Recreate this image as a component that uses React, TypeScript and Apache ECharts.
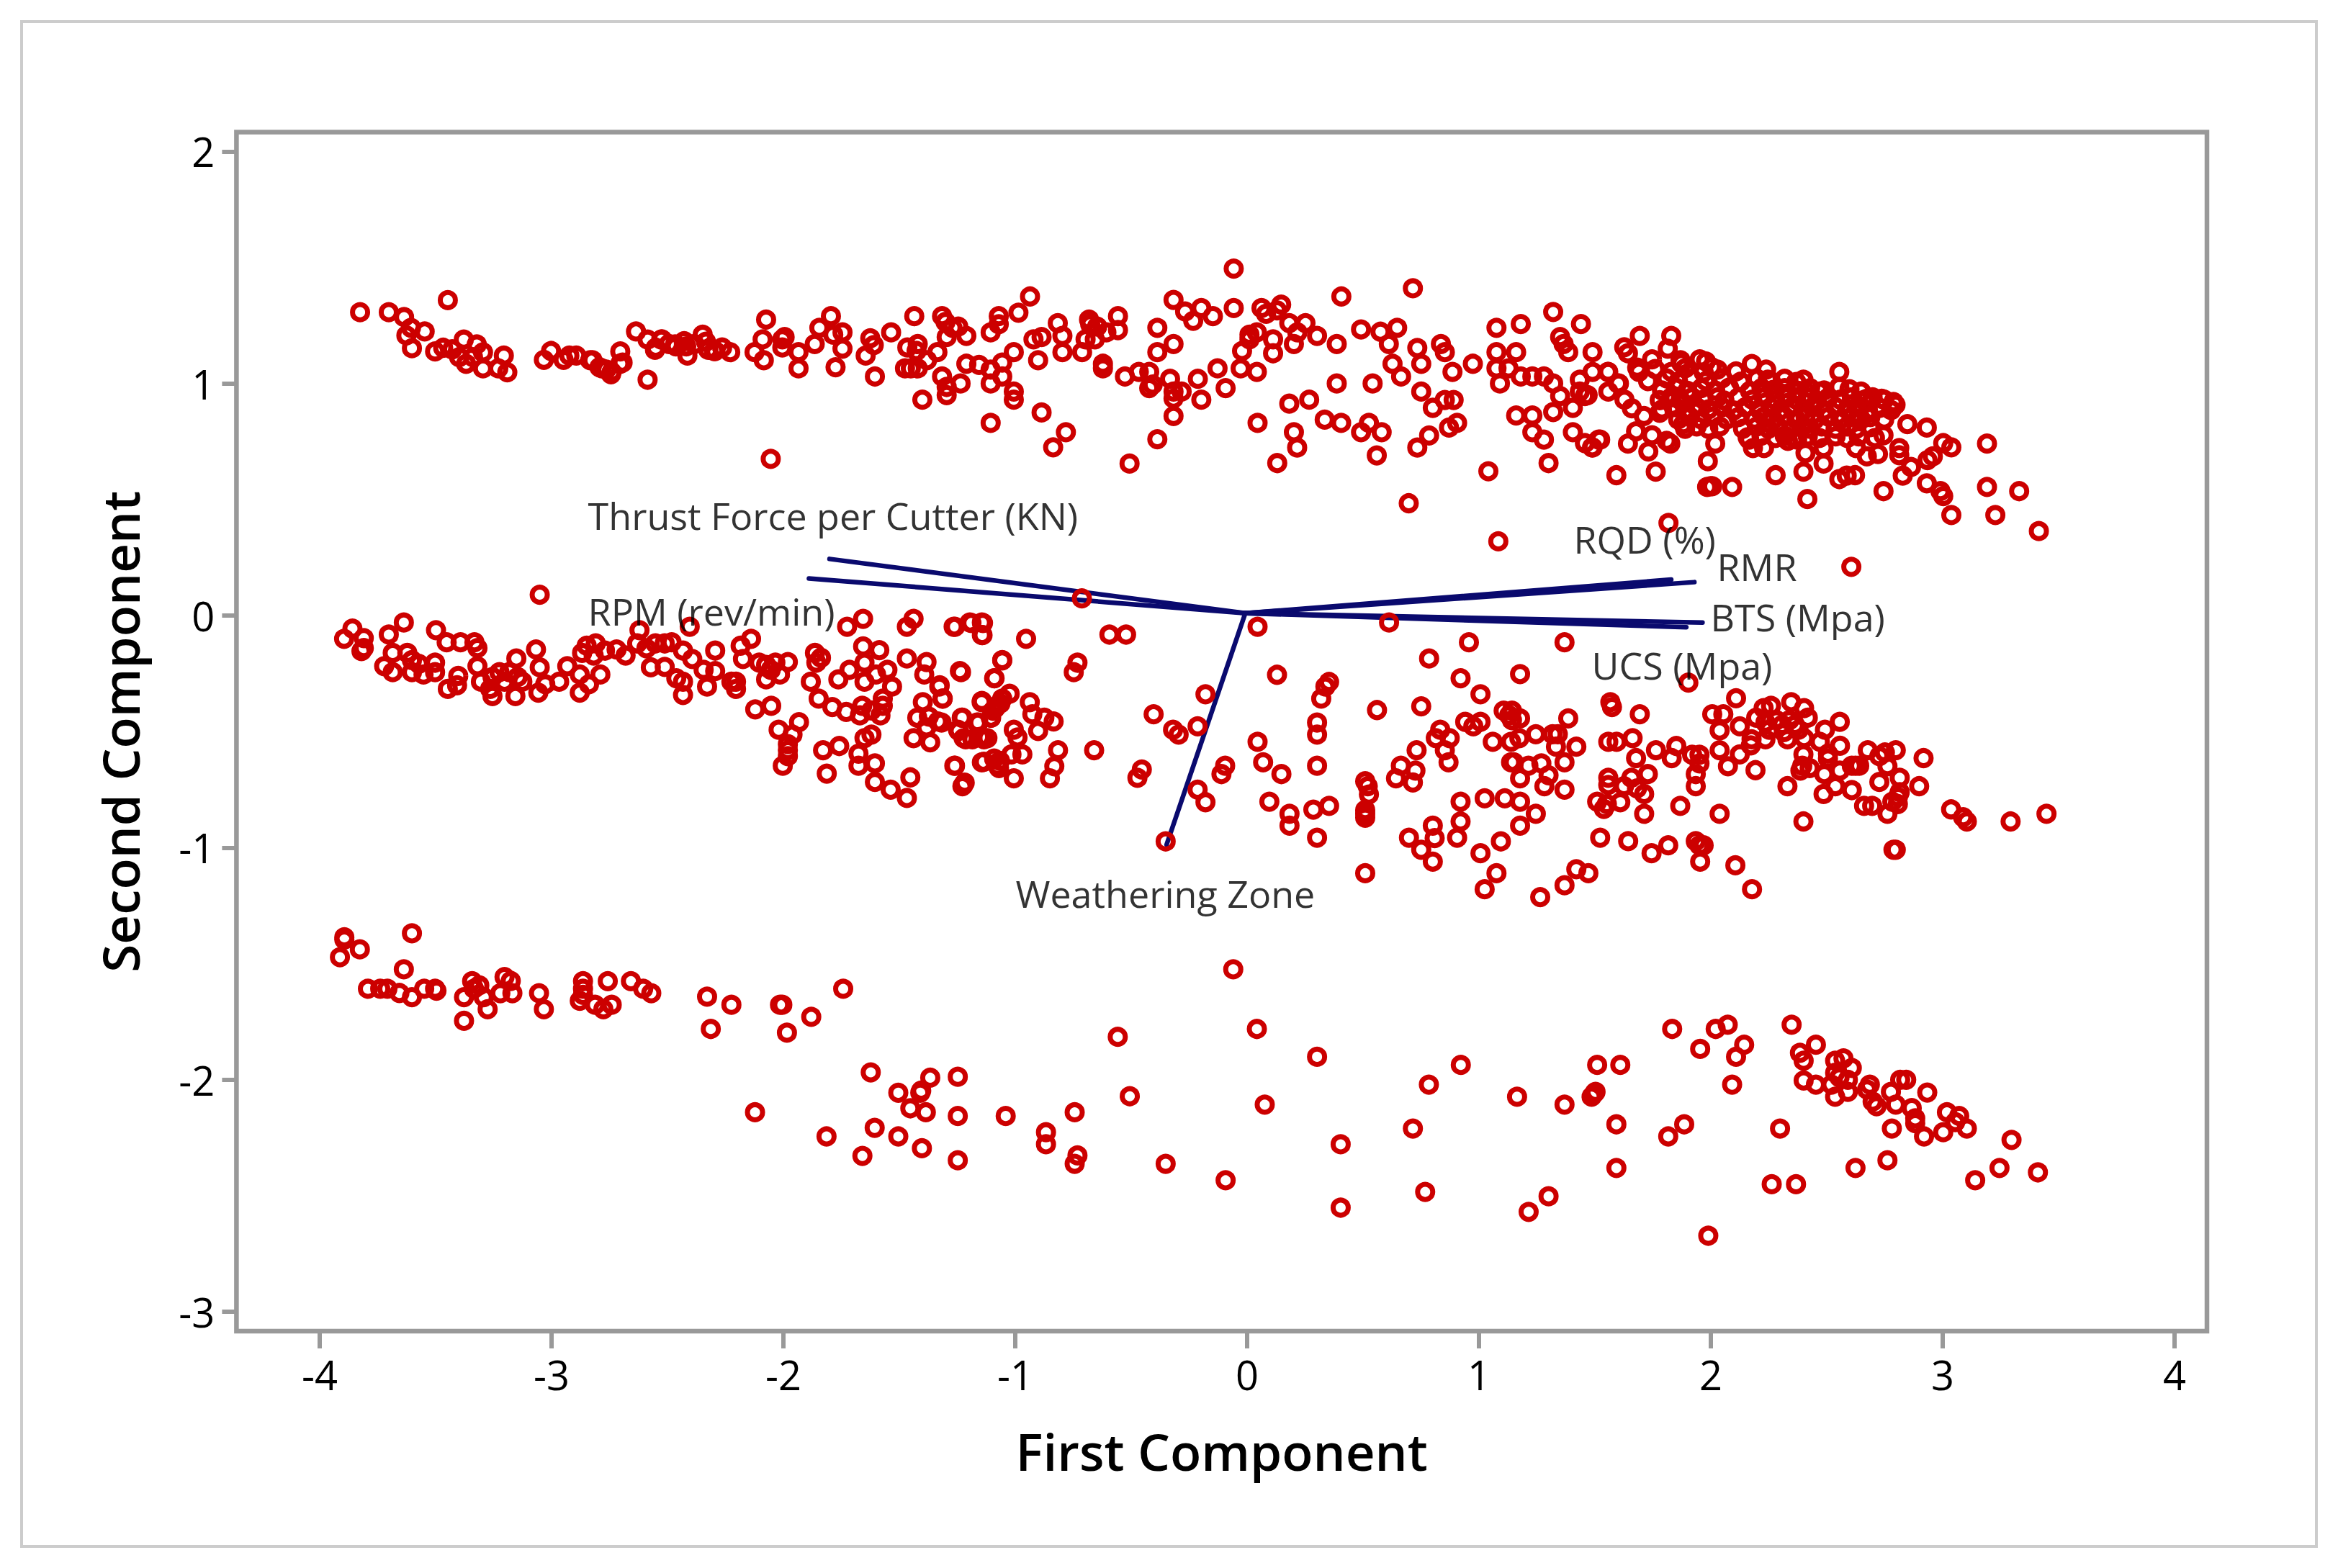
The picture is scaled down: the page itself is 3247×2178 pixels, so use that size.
import React, { useEffect, useRef } from "react";
import * as echarts from "echarts";

const xTicks = [-4, -3, -2, -1, 0, 1, 2, 3, 4];
const yTicks = [-3, -2, -1, 0, 1, 2];
const xTitle = "First Component";
const yTitle = "Second Component";

const loadingNames = ["Thrust Force per Cutter (KN)", "RPM (rev/min)", "RQD (%)", "RMR", "BTS (Mpa)", "UCS (Mpa)", "Weathering Zone"];
const loadingOrigin = [0, 0.01];
const loadingEnds = [[-1.796, 0.244], [-1.885, 0.16], [1.84, 0.155], [1.94, 0.144], [1.975, -0.03], [1.905, -0.05], [-0.34, -0.987]];
const loadingLabelAnchors = [[-2.841, 0.434], [-2.841, 0.02], [1.417, 0.33], [2.036, 0.214], [2.008, -0.006], [1.495, -0.212], [-0.994, -1.196]];

const upperBandLeft = [
[-3.824,1.307],[-3.7,1.307],[-3.634,1.286],[-3.604,1.24],[-3.545,1.224],[-3.624,1.207],[-3.6,1.152],[-3.445,1.359],[-3.5,1.138],[-3.465,1.154],[-3.426,1.147],[-3.376,1.189],[-3.396,1.113],[-3.366,1.085],[-3.32,1.168],[-3.293,1.134],[-3.293,1.065],[-3.336,1.113],[-3.227,1.065],[-3.203,1.12],[-3.188,1.048],[-3.03,1.102],[-2.999,1.14],[-2.945,1.102],[-2.92,1.12],[-2.82,1.1],[-2.78,1.065],[-2.737,1.05],[-2.7,1.085],[-2.7,1.138],[-2.632,1.224],[-2.582,1.016],[-2.582,1.189],[-2.547,1.154],[-2.523,1.189],[-2.463,1.168],[-2.424,1.182],[-2.41,1.12],[-2.344,1.21],[-2.295,1.14],
[-2.89,1.12],[-2.83,1.1],[-2.79,1.07],[-2.74,1.04],[-2.69,1.09],[-2.76,1.06],[-2.55,1.145],[-2.52,1.19],[-2.49,1.17],[-2.46,1.16],[-2.415,1.16],[-2.38,1.17],[-2.33,1.18],[-2.32,1.145],[-2.29,1.14],[-2.26,1.155],[-2.225,1.135],[-2.12,1.135],[-2.08,1.1],[-2.085,1.19],[-2.07,1.275],[-2.05,0.675],[-2.0,1.19],[-1.99,1.2],[-2.0,1.155],[-1.93,1.135],[-1.93,1.065],[-1.86,1.17],[-1.84,1.24],[-1.79,1.29],[-1.77,1.07],[-1.78,1.21],[-1.74,1.22],[-1.74,1.15],[-1.62,1.195],[-1.605,1.165],[-1.64,1.12],[-1.6,1.03],[-1.53,1.22],[-1.43,1.29],[-1.46,1.155],[-1.415,1.17],[-1.42,1.14],[-1.47,1.065],[-1.445,1.065],[-1.415,1.065],[-1.375,1.1],[-1.33,1.135],[-1.395,0.93],[-1.31,1.29],[-1.295,1.265],[-1.29,1.2],[-1.265,1.24],[-1.24,1.245],[-1.205,1.205],[-1.31,1.03],[-1.29,0.985],[-1.29,0.95],[-1.23,1.0],[-1.205,1.085],[-1.15,1.08],[-1.1,1.22],[-1.1,1.06],[-1.1,1.0],[-1.1,0.83],[-1.065,1.29],[-1.065,1.255],[-1.05,1.09],[-1.05,1.03],[-1.0,1.135],[-1.0,0.965],[-1.0,0.93],[-0.98,1.305],[-0.93,1.375],[-0.915,1.19],[-0.88,1.2],[-0.895,1.1],[-0.88,0.875],[-0.81,1.26],[-0.79,1.205],[-0.79,1.135],[-0.83,0.725],[-0.775,0.79],[-0.705,1.135],[-0.69,1.19],[-0.675,1.275],[-0.67,1.255],[-0.64,1.245],[-0.65,1.19],[-0.6,1.22],[-0.55,1.29],[-0.55,1.23],[-0.615,1.085],[-0.615,1.065],[-0.52,1.03],[-0.46,1.05],[-0.415,1.05],[-0.5,0.655],[-0.415,0.98],
];

const upperBandCentre = [
[-0.38,1.24],[-0.38,1.135],[-0.31,1.17],[-0.31,1.36],[-0.4,0.995],[-0.325,1.02],[-0.31,0.965],[-0.31,0.935],[-0.275,0.965],[-0.205,1.02],[-0.19,0.93],[-0.31,0.86],[-0.38,0.76],[-0.26,1.31],[-0.225,1.27],[-0.19,1.325],[-0.14,1.29],[-0.05,1.495],[-0.05,1.325],[-0.12,1.065],[-0.085,0.98],[-0.02,1.065],[0.05,1.05],[0.07,1.325],[0.09,1.3],[0.137,1.315],[0.155,1.34],[0.19,1.26],[0.26,1.26],[0.225,1.22],[0.31,1.205],[0.21,1.17],[0.12,1.19],[0.12,1.13],[0.018,1.21],[0.018,1.19],[0.05,1.22],[-0.014,1.14],[0.395,1.17],[0.415,1.375],[0.395,1.0],[0.55,1.0],[0.19,0.913],[0.276,0.93],[0.053,0.83],[0.21,0.79],[0.224,0.724],[0.138,0.657],[0.343,0.844],[0.414,0.83],[0.5,0.79],[0.534,0.83],[0.589,0.79],[0.568,0.69],[0.5,1.233],[0.584,1.223],[0.656,1.24],[0.62,1.17],[0.724,1.41],[0.636,1.085],[0.673,1.03],[0.743,1.153],[0.76,1.085],[0.76,0.965],[0.845,1.17],[0.862,1.135],[0.862,0.929],[0.9,0.929],[0.81,0.895],[0.88,0.81],[0.915,0.83],[0.794,0.776],[0.743,0.724],[0.706,0.484],[0.895,1.05],[0.983,1.085],[1.05,0.622],[1.085,1.24],[1.19,1.256],[1.085,1.135],[1.17,1.135],[1.085,1.065],[1.137,1.065],[1.1,1.0],[1.19,1.03],[1.24,1.03],[1.29,1.03],[1.33,1.0],[1.33,1.308],[1.45,1.256],[1.36,1.2],[1.375,1.17],[1.395,1.135],[1.5,1.135],[1.36,0.946],[1.415,0.895],[1.33,0.877],[1.17,0.862],[1.24,0.862],[1.24,0.79],[1.29,0.758],[1.31,0.657],[1.415,0.79],[1.467,0.743],[1.5,0.724],[1.533,0.758],[1.445,1.016],[1.5,1.05],[1.568,1.05],[1.445,0.965],[1.467,0.946],[1.568,0.965],[1.61,1.0],[1.093,0.32],
];

const upperBandRight = [
[1.704,1.205],[1.84,1.205],[1.825,1.15],[1.637,1.156],[1.653,1.13],[1.566,1.05],[1.479,0.95],[1.614,1.0],[1.638,0.93],[1.67,0.893],[1.722,0.86],[1.79,0.874],[1.688,0.794],[1.757,0.777],[1.653,0.741],[1.741,0.707],[1.82,0.753],[1.836,0.741],[1.603,0.605],[1.773,0.62],[1.526,0.758],[1.498,0.725],[1.828,0.399],[1.757,1.104],[1.963,1.104],[2.015,1.07],[1.884,1.087],[1.693,1.068],[2.188,1.084],[2.257,1.016],[2.411,1.016],[2.566,1.05],[2.566,0.985],[2.479,0.965],[2.685,0.934],[2.749,0.934],[2.809,0.908],[2.86,0.825],[2.944,0.81],[3.204,0.741],[3.015,0.743],[3.05,0.725],[2.97,0.686],[2.947,0.67],[2.876,0.64],[2.84,0.603],[2.944,0.57],[3.003,0.536],[3.015,0.515],[3.05,0.433],[3.204,0.554],[3.343,0.536],[3.24,0.433],[3.428,0.364],[2.618,0.21],[2.428,0.502],[2.291,0.605],[2.411,0.62],[2.498,0.655],[2.498,0.722],[2.42,0.7],[2.566,0.588],[2.598,0.603],[2.634,0.605],[2.757,0.536],[2.03,0.741],[1.998,0.665],[2.01,0.557],[1.995,0.554],[2.103,0.554],[2.017,0.557],[2.757,0.777],[2.638,0.722],[2.685,0.686],[2.733,0.696],[2.825,0.722],[2.825,0.691],[1.892,0.825],[2.177,0.758],[2.193,0.722],[2.241,0.722],[2.344,0.753],[2.384,0.758],
];

const upperBandCluster = [
[1.88,1.1],[1.99,1.095],
[1.7,1.05],[1.77,1.062],[1.84,1.05],[1.9,1.065],[1.98,1.048],[2.04,1.06],[2.12,1.052],[2.25,1.06],
[1.74,1.01],[1.82,1.022],[1.87,1.008],[1.93,1.02],[1.99,1.01],[2.06,1.022],[2.14,1.008],[2.21,1.02],[2.27,1.01],[2.33,1.02],[2.38,1.006],
[1.8,0.97],[1.86,0.982],[1.91,0.968],[1.97,0.98],[2.03,0.97],[2.09,0.982],[2.18,0.968],[2.23,0.98],[2.28,0.972],[2.33,0.98],[2.39,0.968],[2.44,0.98],[2.5,0.97],[2.61,0.975],[2.66,0.965],
[1.79,0.928],[1.84,0.94],[1.88,0.928],[1.93,0.94],[1.98,0.93],[2.04,0.94],[2.07,0.926],[2.13,0.94],[2.19,0.93],[2.24,0.94],[2.29,0.928],[2.34,0.94],[2.38,0.93],[2.43,0.94],[2.47,0.926],[2.52,0.94],[2.57,0.93],[2.62,0.94],[2.67,0.928],[2.71,0.94],[2.76,0.93],[2.8,0.92],
[1.8,0.888],[1.86,0.898],[1.9,0.885],[1.95,0.898],[2.0,0.888],[2.06,0.898],[2.11,0.884],[2.16,0.898],[2.22,0.888],[2.27,0.898],[2.31,0.884],[2.36,0.898],[2.41,0.888],[2.45,0.898],[2.5,0.884],[2.55,0.898],[2.6,0.888],[2.64,0.898],[2.69,0.884],[2.74,0.895],[2.79,0.885],
[1.87,0.845],[1.92,0.857],[1.97,0.845],[2.02,0.857],[2.08,0.845],[2.13,0.855],[2.2,0.845],[2.24,0.857],[2.28,0.845],[2.33,0.857],[2.38,0.845],[2.42,0.857],[2.46,0.845],[2.52,0.857],[2.57,0.845],[2.62,0.857],[2.66,0.845],[2.7,0.855],[2.76,0.845],
[1.9,0.805],[1.95,0.815],[2.0,0.805],[2.05,0.815],[2.15,0.805],[2.21,0.815],[2.26,0.805],[2.3,0.815],[2.36,0.805],[2.41,0.815],[2.44,0.805],[2.49,0.815],[2.55,0.805],[2.6,0.815],[2.64,0.805],[2.7,0.812],
[2.17,0.768],[2.23,0.775],[2.29,0.765],[2.33,0.775],[2.37,0.765],[2.43,0.772],[2.48,0.765],[2.55,0.772],[2.6,0.765],[2.65,0.772],[2.72,0.765],
];

const middleBandLeft = [
[-3.893,-0.1],[-3.857,-0.056],[-3.808,-0.097],[-3.818,-0.153],[-3.808,-0.14],[-3.7,-0.082],[-3.635,-0.03],[-3.72,-0.218],[-3.683,-0.244],[-3.683,-0.161],[-3.62,-0.161],[-3.6,-0.192],[-3.57,-0.208],[-3.6,-0.244],[-3.55,-0.254],[-3.5,-0.203],[-3.496,-0.063],[-3.45,-0.115],[-3.39,-0.115],[-3.33,-0.115],[-3.317,-0.14],[-3.5,-0.244],[-3.445,-0.316],[-3.4,-0.26],[-3.405,-0.3],[-3.317,-0.218],[-3.302,-0.285],[-3.252,-0.347],[-3.252,-0.265],[-3.222,-0.244],[-3.2,-0.285],[-3.18,-0.244],[-3.153,-0.347],[-3.143,-0.265],[-3.123,-0.285],[-3.262,-0.316],[-3.149,-0.185],[-3.064,-0.146],[-3.048,-0.223],[-3.048,0.09],[-3.054,-0.332],[-3.024,-0.296],[-2.964,-0.285],[-2.929,-0.218],[-2.875,-0.332],[-2.875,-0.254],[-2.835,-0.296],[-2.786,-0.254],[-2.865,-0.161],[-2.845,-0.13],[-2.806,-0.12],[-2.815,-0.172],[-2.766,-0.151],[-2.716,-0.146],[-2.677,-0.172],[-2.617,-0.063],[-2.627,-0.12],[-2.587,-0.141],[-2.548,-0.12],[-2.508,-0.12],[-2.568,-0.223],[-2.508,-0.221],[-2.478,-0.115],[-2.429,-0.151],[-2.389,-0.187],[-2.458,-0.27],[-2.429,-0.285],[-2.429,-0.342],[-2.4,-0.048],[-2.325,-0.306],[-2.34,-0.234],[-2.29,-0.239],[-2.29,-0.151],[-2.22,-0.285],[-2.2,-0.285],[-2.2,-0.316],[-2.18,-0.13],[-2.135,-0.1],[-2.17,-0.187],[-2.1,-0.203],[-2.07,-0.213],[-2.05,-0.234],[-2.03,-0.203],[-2.07,-0.275],[-2.01,-0.254],[-1.976,-0.2],[-2.117,-0.404],[-2.048,-0.389],[-1.928,-0.459],[-2.016,-0.492],[-1.956,-0.513],[-1.976,-0.554],[-1.976,-0.58],[-1.976,-0.606],[-1.998,-0.647],[-1.824,-0.58],[-1.754,-0.562],[-1.808,-0.681],[-1.877,-0.285],[-1.859,-0.161],[-1.833,-0.182],[-1.853,-0.203],[-1.843,-0.358],[-1.758,-0.275],[-1.784,-0.394],[-1.724,-0.415],[-1.71,-0.234],[-1.72,-0.048],[-1.651,-0.014],[-1.651,-0.133],[-1.581,-0.149],[-1.645,-0.203],[-1.645,-0.285],[-1.546,-0.234],[-1.595,-0.254],[-1.526,-0.306],[-1.566,-0.358],[-1.566,-0.389],[-1.576,-0.43],[-1.655,-0.389],[-1.665,-0.43],[-1.615,-0.409],[-1.615,-0.513],[-1.645,-0.528],[-1.671,-0.595],[-1.671,-0.647],[-1.6,-0.637],[-1.6,-0.717],[-1.532,-0.75],[-1.447,-0.697],[-1.462,-0.786],[-1.462,-0.185],[-1.462,-0.048],[-1.433,-0.014],[-1.254,-0.048],[-1.183,-0.032],[-1.133,-0.032],[-1.135,-0.084],[-1.377,-0.2],[-1.387,-0.254],[-1.322,-0.306],[-1.308,-0.358],[-1.228,-0.244],[-1.083,-0.27],[-1.05,-0.192],[-1.393,-0.373],[-1.417,-0.44],[-1.367,-0.435],[-1.328,-0.456],[-1.377,-0.482],[-1.433,-0.528],[-1.361,-0.546],[-1.222,-0.44],[-1.238,-0.497],[-1.208,-0.533],[-1.159,-0.461],[-1.179,-0.533],[-1.129,-0.533],[-1.139,-0.373],[-1.08,-0.399],[-1.05,-0.358],[-1.099,-0.44],[-1.254,-0.647],[-1.218,-0.73],[-1.129,-0.63],[-1.06,-0.626],[-1.064,-0.657],
];

const middleBandCentre = [
[-1.26,-0.048],[-1.19,-0.03],[-1.138,-0.03],[-1.138,-0.084],[-0.947,-0.1],[-1.05,-0.193],[-1.233,-0.239],[-1.085,-0.27],[-1.32,-0.3],[-1.307,-0.358],[-1.138,-0.368],[-1.09,-0.41],[-1.074,-0.389],[-1.058,-0.379],[-1.098,-0.44],[-1.018,-0.337],[-0.931,-0.373],[-1.225,-0.44],[-1.312,-0.461],[-1.153,-0.461],[-0.92,-0.425],[-0.868,-0.44],[-0.828,-0.456],[-1.0,-0.492],[-0.984,-0.525],[-0.895,-0.497],[-1.241,-0.492],[-1.217,-0.528],[-1.146,-0.523],[-1.114,-0.528],[-0.809,-0.58],[-1.01,-0.598],[-0.963,-0.598],[-1.138,-0.632],[-1.085,-0.616],[-1.069,-0.647],[-1.257,-0.647],[-0.825,-0.649],[-0.844,-0.701],[-1.0,-0.701],[-1.212,-0.72],[-1.222,-0.735],[-0.653,-0.58],[-0.447,-0.663],[-0.466,-0.699],[-0.587,-0.082],[-0.515,-0.082],[-0.706,0.074],[-0.725,-0.203],[-0.741,-0.244],[-0.396,-0.425],[-0.172,-0.339],[-0.312,-0.492],[-0.288,-0.513],[-0.206,-0.477],[-0.087,-0.647],[-0.103,-0.683],[-0.206,-0.75],[-0.172,-0.804],[-0.344,-0.973],[0.053,-0.048],[0.621,-0.03],[0.137,-0.255],[0.053,-0.544],[0.077,-0.632],[0.156,-0.683],[0.362,-0.286],[0.346,-0.306],[0.328,-0.358],[0.31,-0.461],[0.31,-0.513],[0.31,-0.647],[0.104,-0.802],[0.191,-0.854],[0.191,-0.905],[0.294,-0.836],[0.362,-0.82],[0.31,-0.957],[0.518,-0.714],[0.529,-0.735],[0.534,-0.771],[0.518,-0.838],[0.518,-0.854],[0.518,-0.871],[0.518,-1.11],[0.569,-0.407],[0.76,-0.391],[0.794,-0.185],[0.966,-0.115],[0.93,-0.27],[1.016,-0.339],[1.116,-0.41],[1.14,-0.43],[0.95,-0.458],[0.985,-0.477],[1.016,-0.458],[1.069,-0.544],[0.842,-0.492],[0.823,-0.528],[0.883,-0.528],[0.862,-0.58],[0.878,-0.632],[0.74,-0.58],[0.672,-0.647],[0.651,-0.701],[0.735,-0.668],[0.724,-0.719],[0.93,-0.802],[1.034,-0.787],[1.121,-0.787],[0.93,-0.887],[0.81,-0.905],[0.818,-0.959],[0.707,-0.957],[0.915,-0.957],[0.76,-1.009],[0.81,-1.06],[1.016,-1.024],[1.104,-0.973],[1.085,-1.11],[1.034,-1.179],[1.148,-0.632],[1.148,-0.544],
];

const middleBandRight = [
[1.379,-0.115],[1.187,-0.252],[1.914,-0.289],[1.577,-0.373],[1.584,-0.394],[1.704,-0.425],[1.187,-0.443],[1.152,-0.451],[1.152,-0.41],[1.395,-0.443],[1.255,-0.511],[1.327,-0.511],[1.35,-0.511],[1.184,-0.528],[1.342,-0.565],[1.43,-0.565],[1.568,-0.544],[1.604,-0.544],[1.673,-0.528],[1.774,-0.58],[1.862,-0.562],[1.842,-0.614],[1.688,-0.614],[1.16,-0.632],[1.223,-0.647],[1.279,-0.637],[1.379,-0.632],[1.187,-0.701],[1.31,-0.688],[1.292,-0.735],[1.379,-0.75],[1.187,-0.802],[1.255,-0.854],[1.187,-0.905],[1.533,-0.957],[1.654,-0.972],[1.755,-1.024],[1.827,-0.99],[1.946,-0.972],[1.962,-0.99],[1.98,-0.99],[1.965,-1.06],[1.43,-1.093],[1.482,-1.11],[1.379,-1.162],[1.274,-1.213],[2.117,-1.076],[2.189,-1.179],[1.879,-0.82],[2.049,-0.854],[2.411,-0.887],[2.8,-1.009],[2.81,-1.009],[1.568,-0.699],[1.568,-0.73],[1.668,-0.699],[1.636,-0.735],[1.692,-0.745],[1.739,-0.683],[1.723,-0.769],[1.723,-0.854],[1.62,-0.804],[1.52,-0.802],[1.562,-0.812],[1.549,-0.833],[1.946,-0.683],[1.946,-0.735],[1.93,-0.6],[1.962,-0.6],[1.962,-0.637],[2.017,-0.425],[2.065,-0.425],[2.049,-0.495],[2.136,-0.477],[2.12,-0.356],[2.049,-0.58],[2.136,-0.598],[2.184,-0.559],[2.085,-0.649],[2.204,-0.666],[2.342,-0.735],[2.239,-0.399],[2.271,-0.389],[2.358,-0.373],[2.414,-0.399],[2.207,-0.44],[2.247,-0.461],[2.295,-0.451],[2.319,-0.471],[2.35,-0.451],[2.374,-0.471],[2.263,-0.492],[2.327,-0.502],[2.43,-0.44],[2.39,-0.492],[2.568,-0.458],[2.504,-0.492],[2.414,-0.528],[2.342,-0.533],[2.247,-0.533],[2.187,-0.533],[2.482,-0.544],[2.569,-0.561],[2.517,-0.595],[2.517,-0.616],[2.411,-0.598],[2.406,-0.647],[2.398,-0.668],[2.438,-0.657],[2.501,-0.683],[2.568,-0.668],[2.636,-0.647],[2.62,-0.647],[2.652,-0.647],[2.689,-0.58],[2.739,-0.606],[2.763,-0.59],[2.81,-0.58],[2.93,-0.614],[2.774,-0.649],[2.827,-0.699],[2.739,-0.717],[2.911,-0.735],[2.549,-0.735],[2.498,-0.769],[2.62,-0.752],[2.673,-0.82],[2.708,-0.82],[2.774,-0.854],[2.795,-0.802],[2.819,-0.812],[2.819,-0.782],[2.827,-0.761],[3.049,-0.835],[3.101,-0.869],[3.117,-0.887],[3.306,-0.887],[3.461,-0.854],
];

const lowerBandLeft = [
[-3.892,-1.386],[-3.892,-1.396],[-3.6,-1.369],[-3.825,-1.438],[-3.911,-1.472],[-3.635,-1.524],[-3.79,-1.608],[-3.737,-1.608],[-3.706,-1.608],[-3.654,-1.626],[-3.6,-1.644],[-3.547,-1.608],[-3.494,-1.616],[-3.5,-1.608],[-3.375,-1.644],[-3.34,-1.575],[-3.309,-1.593],[-3.332,-1.608],[-3.29,-1.644],[-3.375,-1.746],[-3.273,-1.696],[-3.218,-1.627],[-3.2,-1.557],[-3.173,-1.574],[-3.166,-1.627],[-3.051,-1.627],[-3.03,-1.696],[-2.861,-1.575],[-2.861,-1.608],[-2.861,-1.634],[-2.875,-1.66],[-2.754,-1.575],[-2.809,-1.677],[-2.773,-1.696],[-2.737,-1.677],[-2.654,-1.575],[-2.601,-1.608],[-2.566,-1.627],[-2.325,-1.642],[-2.22,-1.677],[-2.309,-1.781],[-2.01,-1.677],[-2.0,-1.677],[-1.875,-1.729],[-1.98,-1.797],[-1.737,-1.608],[-1.618,-1.968],[-0.551,-1.815],[-1.361,-1.991],[-1.242,-1.987],[-1.499,-2.056],[-1.404,-2.056],[-1.4,-2.047],[-1.447,-2.123],[-1.38,-2.14],[-1.242,-2.156],[-1.035,-2.156],[-2.118,-2.14],[-1.809,-2.244],[-1.601,-2.207],[-1.499,-2.244],[-1.397,-2.295],[-1.654,-2.328],[-1.242,-2.347],[-0.861,-2.226],[-0.861,-2.278],[-0.737,-2.14],[-0.725,-2.326],[-0.737,-2.362],[-0.499,-2.071],[-0.344,-2.362],
];

const lowerBandRight = [
[-0.052,-1.524],[0.05,-1.781],[0.31,-1.901],[0.084,-2.107],[0.412,-2.278],[-0.085,-2.433],[0.412,-2.551],[0.724,-2.21],[0.777,-2.483],[0.931,-1.936],[0.793,-2.021],[1.174,-2.073],[1.379,-2.107],[1.496,-2.073],[1.513,-2.052],[1.508,-2.058],[1.52,-1.936],[1.62,-1.936],[1.603,-2.192],[1.603,-2.38],[1.224,-2.569],[1.31,-2.502],[1.827,-2.244],[1.896,-2.192],[1.844,-1.781],[1.965,-1.867],[2.032,-1.781],[2.084,-1.763],[2.155,-1.849],[2.12,-1.901],[2.103,-2.021],[2.0,-2.672],[2.31,-2.21],[2.274,-2.45],[2.379,-2.45],[2.36,-1.763],[2.465,-1.849],[2.396,-1.884],[2.412,-1.918],[2.412,-2.003],[2.465,-2.021],[2.548,-1.918],[2.584,-1.908],[2.62,-1.949],[2.548,-1.97],[2.567,-1.99],[2.603,-2.0],[2.532,-2.021],[2.548,-2.073],[2.603,-2.052],[2.698,-2.021],[2.686,-2.042],[2.71,-2.094],[2.727,-2.114],[2.789,-2.052],[2.81,-2.107],[2.829,-2.0],[2.855,-2.0],[2.946,-2.055],[2.879,-2.122],[2.894,-2.166],[2.894,-2.187],[3.031,-2.14],[3.084,-2.156],[3.067,-2.182],[3.015,-2.226],[3.117,-2.21],[2.932,-2.244],[2.793,-2.21],[3.31,-2.259],[2.774,-2.347],[2.636,-2.38],[3.153,-2.433],[3.258,-2.38],[3.424,-2.399],
];

const FONT = "Open Sans";

// The values above were read against a provisional x scale; this aligns them with the drawn tick marks.
const onXTicks = (p: number[]) => [0.99845 * p[0] - 0.00776, p[1]];

export default function App() {
  const ref = useRef<HTMLDivElement>(null);
  useEffect(() => {
    const chart = echarts.init(ref.current!, null, { renderer: "svg" });
    const scores = [...upperBandLeft, ...upperBandCentre, ...upperBandRight, ...upperBandCluster, ...middleBandLeft, ...middleBandCentre, ...middleBandRight, ...lowerBandLeft, ...lowerBandRight].map(onXTicks);
    const axisBase = {
      type: "value",
      nameLocation: "middle",
      nameTextStyle: { fontFamily: FONT, fontSize: 71, fontWeight: 600, color: "#000" },
      splitLine: { show: false },
      axisLine: { show: false, onZero: false },
      axisTick: { show: true, lineStyle: { color: "#999999", width: 6 } },
      axisLabel: { fontFamily: FONT, fontSize: 56, color: "#000" },
    };
    chart.setOption({
      animation: false,
      backgroundColor: "#fff",
      graphic: [{ type: "rect", shape: { x: 30, y: 30, width: 3187, height: 2118 }, style: { fill: "none", stroke: "#cccccc", lineWidth: 4 }, z: 0 }],
      grid: { show: true, left: 328.4, top: 183.5, width: 2736.6, height: 1665.5, borderColor: "#999999", borderWidth: 6.5, backgroundColor: "#fff" },
      xAxis: {
        ...axisBase,
        name: xTitle,
        nameGap: 131,
        min: -4.359,
        max: 4.14,
        axisTick: { ...axisBase.axisTick, length: 24, customValues: xTicks },
        axisLabel: { ...axisBase.axisLabel, margin: 32, customValues: xTicks },
      },
      yAxis: {
        ...axisBase,
        name: yTitle,
        nameGap: 126,
        min: -3.083,
        max: 2.083,
        axisTick: { ...axisBase.axisTick, length: 20, customValues: yTicks },
        axisLabel: { ...axisBase.axisLabel, margin: 30, customValues: yTicks },
      },
      series: [
        ...loadingEnds.map((end, i) => ({
          type: "line",
          name: loadingNames[i],
          data: [onXTicks(loadingOrigin), onXTicks(end)],
          symbol: "none",
          z: 2,
          lineStyle: { color: "#0a0a6e", width: 6.5, cap: "round" },
        })),
        {
          type: "scatter",
          name: "Scores",
          data: scores,
          symbol: "circle",
          symbolSize: 21,
          z: 3,
          itemStyle: { color: "rgba(255,255,255,0)", borderColor: "#cc0000", borderWidth: 7, opacity: 1 },
        },
        {
          type: "scatter",
          name: "Loading labels",
          data: loadingLabelAnchors.map((p, i) => ({ value: onXTicks(p), name: loadingNames[i] })),
          symbol: "circle",
          symbolSize: 1,
          z: 4,
          itemStyle: { color: "rgba(0,0,0,0)" },
          label: { show: true, position: "right", distance: 0, formatter: "{b}", fontFamily: FONT, fontSize: 52, color: "#000" },
        },
      ],
    });
    return () => chart.dispose();
  }, []);
  return <div ref={ref} style={{ position: "fixed", left: 0, top: 0, width: 3247, height: 2178 }} />;
}
